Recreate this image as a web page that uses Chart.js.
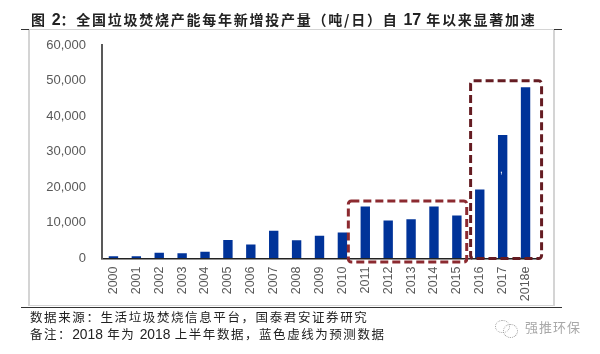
<!DOCTYPE html>
<html>
<head>
<meta charset="utf-8">
<script src="https://cdn.jsdelivr.net/npm/chart.js@4"></script>
<style>
html, body { margin: 0; padding: 0; background: #fff; }
#wrap { position: relative; width: 600px; height: 354px; overflow: hidden; filter: blur(0.3px); }
#wrap canvas { position: absolute; left: 0; top: 0; }
.txt { position: absolute; white-space: nowrap; color: #222; font-family: "Noto Sans CJK SC", sans-serif; line-height: 1; }
.num { font-family: "Liberation Sans", sans-serif; }
.ln { position: absolute; }
#title { left: 31px; top: 12px; font-size: 14px; font-weight: 700; letter-spacing: 1.75px; }
#title .num { font-size: 16px; font-weight: 700; letter-spacing: 0; }
#src { left: 30px; top: 311px; font-size: 12.5px; letter-spacing: 1.6px; }
#note { left: 30px; top: 328px; font-size: 12.5px; letter-spacing: 1.55px; }
#note .num { font-size: 13.8px; letter-spacing: 0; }
#mark { left: 525px; top: 320px; font-size: 13px; color: #a8a8a8; letter-spacing: 1px; }
#comma { left: 500px; top: 165px; font-size: 10px; color: #fff; font-family: "Liberation Sans", sans-serif; }
.ico { position: absolute; border: 1px dotted #999; border-radius: 50%; }
</style>
</head>
<body>
<div id="wrap">
    <canvas id="barChart" width="600" height="354"></canvas>
    <div class="ln" style="left:29px;top:29px;width:525px;height:1px;background:#d4d4d4"></div>
    <div class="ln" style="left:21px;top:29px;width:8px;height:1px;background:#333"></div>
    <div class="ln" style="left:554px;top:29px;width:8px;height:1px;background:#333"></div>
    <div class="ln" style="left:28px;top:30px;width:2px;height:276px;background:#d4d4d4"></div>
    <div class="ln" style="left:553px;top:30px;width:2px;height:276px;background:#d4d4d4"></div>
    <div class="ln" style="left:29px;top:305px;width:525px;height:1px;background:#d4d4d4"></div>
    <div class="ln" style="left:21px;top:307px;width:541px;height:1px;background:#333"></div>
    <div class="txt" id="title">图 <span class="num">2</span>&#xFF1A;全国垃圾焚烧产能每年新增投产量&#xFF08;吨/日&#xFF09;自 <span class="num">17</span> 年以来显著加速</div>
    <div class="txt" id="src">数据来源&#xFF1A;生活垃圾焚烧信息平台&#xFF0C;国泰君安证券研究</div>
    <div class="txt" id="note">备注&#xFF1A;<span class="num">2018</span> 年为 <span class="num">2018</span> 上半年数据&#xFF0C;蓝色虚线为预测数据</div>
    <div class="ico" style="left:495px;top:320px;width:13px;height:11px"></div>
    <div class="ico" style="left:503px;top:324px;width:13px;height:12px"></div>
    <div class="txt" id="mark">强推环保</div>
    <div class="txt" id="comma">,</div>
</div>
<script>
const years = ['2000', '2001', '2002', '2003', '2004', '2005', '2006', '2007', '2008', '2009',
    '2010', '2011', '2012', '2013', '2014', '2015', '2016', '2017', '2018e'];
const capacity = [600, 600, 1600, 1500, 1900, 5200, 3950, 7800, 5100, 6400,
    7300, 14600, 10700, 11000, 14600, 12100, 19400, 34700, 48100];
const yTicks = [0, 10000, 20000, 30000, 40000, 50000, 60000];

// dashed boxes, in scale units (category index / value)
const boxes = [
    { from: 10.26, to: 15.43, top: 16150, bottom: -1000, color: '#8c2a30' },
    { from: 15.6, to: 18.7, top: 49950, bottom: 0, color: '#651c22' }
];

const boxPlugin = {
    id: 'dashBoxes',
    afterDatasetsDraw: function (chart) {
        let ctx = chart.ctx;
        let x = chart.scales.x;
        let y = chart.scales.y;
        boxes.forEach(function (b) {
            let x1 = x.getPixelForValue(b.from);
            let x2 = x.getPixelForValue(b.to);
            let y1 = y.getPixelForValue(b.top);
            let y2 = y.getPixelForValue(b.bottom);
            ctx.save();
            ctx.strokeStyle = b.color;
            ctx.lineWidth = 3;
            ctx.setLineDash([8, 4]);
            ctx.beginPath();
            ctx.roundRect(x1, y1, x2 - x1, y2 - y1, 3);
            ctx.stroke();
            ctx.restore();
        });
    }
};

new Chart(document.getElementById('barChart').getContext('2d'), {
    type: 'bar',
    data: {
        labels: years,
        datasets: [{
            data: capacity,
            backgroundColor: '#003399',
            categoryPercentage: 1,
            barPercentage: 0.41
        }]
    },
    options: {
        responsive: false,
        animation: false,
        layout: { padding: { top: 45, right: 63, left: 0, bottom: 0 } },
        plugins: { legend: { display: false }, title: { display: false }, tooltip: { enabled: false } },
        scales: {
            x: {
                afterFit: function (scale) { scale.height = 95.5; },
                grid: { drawOnChartArea: false, drawTicks: false },
                border: { color: '#222', width: 1.5 },
                ticks: {
                    color: '#595959', font: { family: 'Liberation Sans', size: 12.5 },
                    minRotation: 90, maxRotation: 90, padding: 8, autoSkip: false
                }
            },
            y: {
                min: 0,
                max: 60000,
                afterFit: function (scale) { scale.width = 102; },
                afterBuildTicks: function (scale) { scale.ticks = yTicks.map(function (v) { return { value: v }; }); },
                grid: { drawOnChartArea: false, drawTicks: false },
                border: { color: '#595959', width: 2 },
                ticks: {
                    color: '#595959', font: { family: 'Liberation Sans', size: 13 }, padding: 16,
                    callback: function (v) { return v.toLocaleString('en-US'); }
                }
            }
        }
    },
    plugins: [boxPlugin]
});
</script>
</body>
</html>
